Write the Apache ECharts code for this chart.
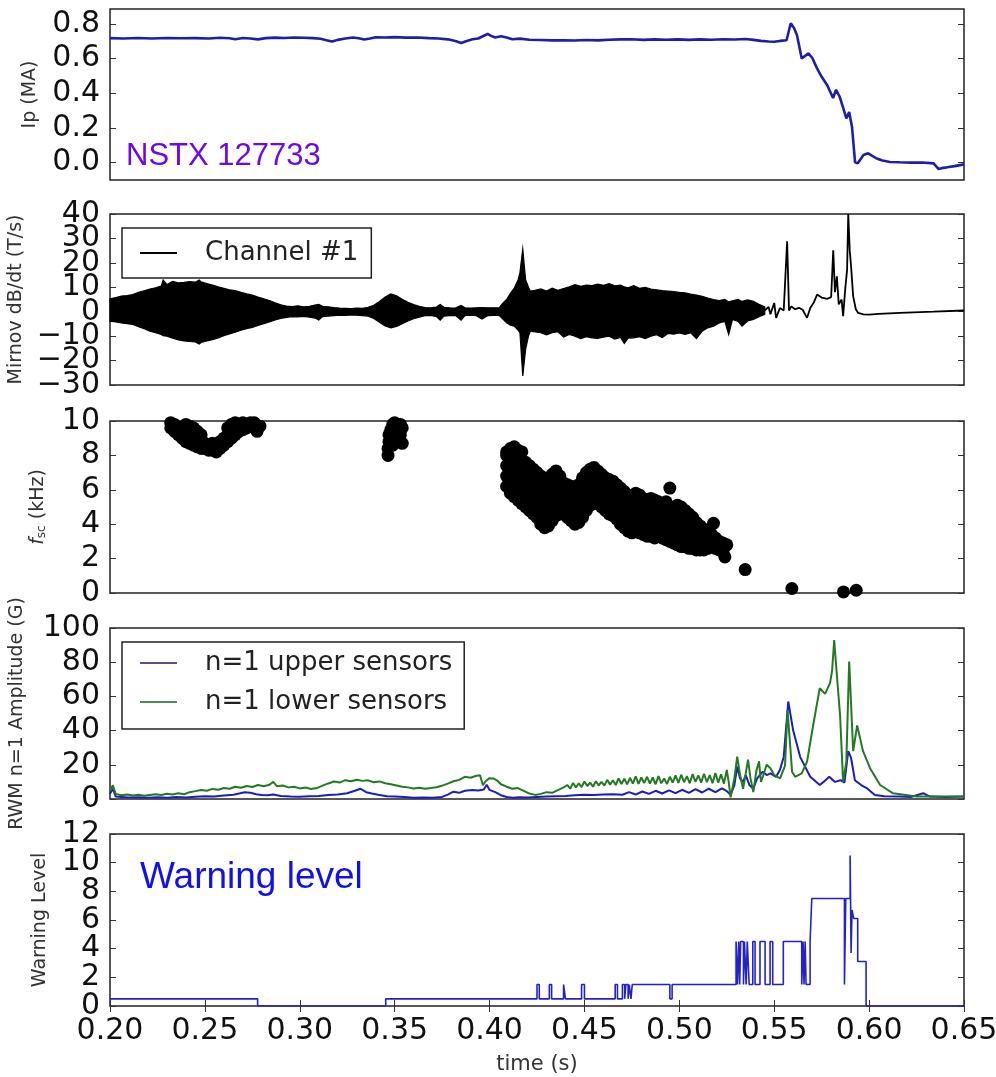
<!DOCTYPE html>
<html>
<head>
<meta charset="utf-8">
<script src="https://cdn.jsdelivr.net/npm/echarts@6/dist/echarts.min.js"></script>
<style>
  html, body { margin: 0; padding: 0; background: #fff; }
  #chart { width: 996px; height: 1077px; }
</style>
</head>
<body>
<div id="chart"></div>
<script>
// ---------- shared time axis ----------
const timeTicks = [0.20, 0.25, 0.30, 0.35, 0.40, 0.45, 0.50, 0.55, 0.60, 0.65];

// ---------- panel 1: plasma current (MA) ----------
const ipData = [
  [0.200,0.718],[0.207,0.716],[0.215,0.719],[0.222,0.716],[0.230,0.719],[0.237,0.717],[0.245,0.718],[0.252,0.716],
  [0.258,0.720],[0.263,0.717],[0.266,0.712],[0.270,0.719],[0.274,0.716],[0.278,0.711],[0.282,0.718],[0.287,0.721],
  [0.292,0.719],[0.297,0.722],[0.302,0.720],[0.307,0.718],[0.311,0.714],[0.314,0.706],[0.317,0.698],[0.320,0.708],
  [0.324,0.716],[0.328,0.722],[0.331,0.717],[0.334,0.710],[0.337,0.716],[0.340,0.723],[0.345,0.722],[0.350,0.724],
  [0.356,0.721],[0.362,0.722],[0.368,0.718],[0.373,0.716],[0.378,0.711],[0.382,0.702],[0.385,0.690],[0.388,0.702],
  [0.391,0.712],[0.394,0.716],[0.397,0.732],[0.399,0.742],[0.401,0.730],[0.403,0.722],[0.406,0.729],[0.409,0.722],
  [0.412,0.712],[0.416,0.715],[0.421,0.709],[0.427,0.707],[0.433,0.705],[0.439,0.706],[0.445,0.704],[0.451,0.707],
  [0.457,0.705],[0.463,0.709],[0.469,0.711],[0.475,0.712],[0.481,0.708],[0.487,0.711],[0.493,0.709],[0.499,0.711],
  [0.505,0.708],[0.511,0.711],[0.517,0.709],[0.523,0.712],[0.529,0.710],[0.535,0.713],[0.539,0.708],[0.543,0.702],
  [0.547,0.699],[0.550,0.697],[0.553,0.702],[0.5565,0.706],[0.5575,0.709],[0.5587,0.804],[0.5605,0.775],[0.562,0.735],
  [0.5645,0.600],[0.5655,0.598],[0.568,0.630],[0.570,0.605],[0.5725,0.545],[0.575,0.495],[0.578,0.445],[0.581,0.373],
  [0.5826,0.420],[0.5845,0.380],[0.5865,0.310],[0.588,0.255],[0.5895,0.292],[0.591,0.205],[0.5926,0.002],[0.594,-0.004],
  [0.5955,0.020],[0.597,0.044],[0.5995,0.054],[0.601,0.044],[0.604,0.024],[0.607,0.012],[0.611,0.004],[0.616,0.002],
  [0.622,0.000],[0.628,0.001],[0.634,-0.004],[0.6365,-0.036],[0.639,-0.030],[0.641,-0.027],[0.645,-0.020],[0.650,-0.010]
];
const ipTicks = [0.0, 0.2, 0.4, 0.6, 0.8];

// ---------- panel 2: Mirnov dB/dt (T/s) ----------
const mirnovTicks = [-30, -20, -10, 0, 10, 20, 30, 40];
// oscillating part as an upper / lower envelope
const mirnovEnvT = [
  0.200,0.203,0.206,0.209,0.212,0.215,0.218,0.221,0.224,0.227,0.228,0.230,0.233,0.236,0.239,0.242,0.245,0.247,0.248,0.251,
  0.254,0.257,0.260,0.263,0.266,0.269,0.272,0.275,0.278,0.281,0.284,0.287,0.290,0.293,0.296,0.299,0.302,0.305,0.308,0.310,
  0.312,0.315,0.318,0.321,0.324,0.327,0.330,0.333,0.336,0.339,0.342,0.345,0.348,0.351,0.354,0.357,0.360,0.363,0.366,0.369,
  0.372,0.374,0.376,0.379,0.382,0.385,0.387,0.390,0.393,0.396,0.399,0.402,0.405,0.407,0.409,0.411,0.413,0.415,0.416,0.4175,
  0.419,0.4205,0.4215,0.424,0.427,0.430,0.433,0.436,0.439,0.442,0.445,0.448,0.451,0.454,0.457,0.460,0.463,0.466,0.469,0.471,
  0.473,0.476,0.479,0.482,0.485,0.488,0.491,0.494,0.497,0.500,0.503,0.506,0.509,0.512,0.515,0.518,0.521,0.524,0.526,0.528,
  0.531,0.533,0.536,0.539,0.542,0.545
];
const mirnovEnvHi = [
  5.3,5.8,6.4,6.6,7.0,7.9,8.6,9.3,9.8,10.5,13.0,11.1,12.4,11.8,12.0,12.3,12.1,13.0,12.2,11.5,
  10.9,10.2,9.6,9.0,8.6,7.9,7.3,6.8,6.0,5.3,4.6,3.6,2.8,2.3,2.1,2.4,2.0,2.2,2.7,3.0,
  2.2,2.0,1.7,1.5,1.4,1.3,1.5,1.4,1.8,2.6,4.2,6.0,7.3,6.5,5.1,3.9,2.9,2.2,1.7,1.6,
  1.9,3.0,1.8,1.6,1.5,2.6,1.6,1.5,1.6,1.7,1.6,1.6,1.6,3.5,5.0,7.5,9.7,13.0,15.9,25.7,
  13.1,10.0,8.4,8.8,9.3,8.5,9.6,8.8,9.5,10.2,11.1,10.4,10.9,10.7,11.3,10.8,11.5,10.6,10.9,10.2,
  9.8,10.7,9.6,10.0,9.3,9.0,8.6,8.4,8.2,7.9,7.7,7.2,6.8,6.3,5.6,5.0,4.6,5.0,4.0,4.5,
  5.0,4.2,4.8,4.3,3.0,2.0
];
const mirnovEnvLo = [
  -3.9,-4.2,-4.6,-4.9,-5.2,-6.1,-7.0,-8.0,-8.6,-9.3,-9.8,-10.0,-10.8,-11.5,-12.0,-12.2,-12.4,-13.2,-12.6,-12.0,
  -11.4,-10.7,-9.8,-9.1,-8.4,-7.6,-6.9,-6.4,-5.6,-4.9,-4.2,-3.4,-2.7,-2.3,-2.0,-2.1,-1.9,-2.2,-2.6,-3.4,
  -2.0,-1.8,-1.6,-1.4,-1.5,-1.3,-1.4,-1.6,-1.8,-2.8,-4.3,-5.8,-6.6,-6.0,-4.9,-3.8,-2.9,-2.2,-1.6,-1.5,
  -2.0,-3.5,-1.8,-1.6,-1.5,-3.5,-1.6,-1.4,-1.6,-3.0,-1.6,-1.5,-1.5,-3.0,-4.5,-5.5,-5.9,-7.5,-8.6,-26.3,
  -15.4,-10.0,-8.0,-8.3,-8.6,-9.5,-8.6,-8.2,-10.4,-9.3,-10.0,-11.0,-10.2,-10.7,-10.9,-10.4,-10.0,-11.2,-10.5,-13.0,
  -10.8,-10.7,-10.2,-11.0,-10.0,-9.4,-10.6,-8.9,-9.2,-8.7,-9.3,-8.6,-11.0,-8.0,-6.6,-5.9,-4.6,-4.0,-9.3,-3.2,
  -4.0,-5.9,-3.8,-3.2,-2.0,-1.1
];
// single trace near and after the disruption
const mirnovTail = [
  [0.545,0.5],[0.547,2.0],[0.548,-1.0],[0.550,3.6],[0.551,-2.5],[0.553,1.5],[0.555,0.5],[0.556,1.0],[0.5568,28.8],
  [0.5578,0.5],[0.559,2.2],[0.561,1.0],[0.563,1.6],[0.565,0.8],[0.5673,-2.5],[0.569,1.5],[0.571,4.0],[0.5726,7.0],
  [0.575,5.8],[0.578,5.3],[0.580,6.0],[0.5811,25.1],[0.582,8.0],[0.583,14.5],[0.584,3.0],[0.5855,5.0],[0.5863,-1.8],
  [0.5875,10.0],[0.5884,17.2],[0.589,40.0],[0.5898,25.0],[0.5905,18.6],[0.5916,6.3],[0.593,1.0],[0.5942,-0.5],
  [0.597,-1.1],[0.600,-1.2],[0.605,-0.9],[0.6163,-0.5],[0.634,0.0],[0.650,0.5]
];

// ---------- panel 3: mode frequency f_sc (kHz) ----------
const fscTicks = [0, 2, 4, 6, 8, 10];
// each entry: time, frequencies detected at that time
const fscCols = [
  [0.232,[9.9,9.6]],[0.234,[9.8,9.4]],[0.236,[9.2,9.6]],[0.238,[9.0,9.5]],[0.240,[8.8,9.3,9.8]],[0.242,[8.7,9.1,9.7]],
  [0.244,[8.6,9.0,9.6]],[0.246,[8.5,8.9,9.4]],[0.248,[8.4,8.8,9.2]],[0.250,[8.4,8.7]],[0.252,[8.3,8.6]],[0.254,[8.3,8.7]],
  [0.256,[8.2,8.5]],[0.258,[8.4,8.8]],[0.260,[8.6,9.0]],[0.262,[8.8,9.2,9.6]],[0.264,[9.0,9.4,9.8]],[0.266,[9.2,9.6,9.9]],
  [0.268,[9.4,9.8]],[0.270,[9.5,9.9]],[0.272,[9.6,9.8]],[0.274,[9.7,9.9]],[0.276,[9.8,9.9]],[0.2775,[9.4]],[0.279,[9.7]],
  [0.3465,[8.0,8.4]],[0.347,[8.8,9.2]],[0.348,[9.0,9.5]],[0.349,[8.6,9.8]],[0.350,[9.3,9.9]],[0.351,[9.0,9.6]],
  [0.352,[8.8,9.4]],[0.353,[9.2,9.8]],[0.354,[8.7,9.6]],
  [0.409,[6.2,6.8,7.4,8.0,8.2]],[0.411,[5.8,6.4,7.0,7.6,8.4]],[0.413,[5.6,6.2,6.8,7.4,8.0,8.5]],
  [0.415,[5.4,6.0,6.6,7.2,7.8,8.3]],[0.417,[5.2,5.8,6.4,7.0,7.6,8.2]],[0.419,[5.0,5.6,6.2,6.8,7.6]],
  [0.421,[4.8,5.4,6.0,6.6,7.4]],[0.423,[4.6,5.2,5.8,6.4,7.2]],[0.425,[4.4,5.0,5.6,6.2,7.0]],
  [0.427,[4.0,4.6,5.2,5.8,6.4,6.8]],[0.429,[3.8,4.4,5.0,5.6,6.1,6.6]],[0.431,[3.9,4.5,5.1,5.7,6.5]],
  [0.433,[4.2,4.8,5.4,6.0,6.9]],[0.435,[4.5,5.1,5.7,6.3,7.1]],[0.437,[4.6,5.2,5.8,6.4,6.8]],
  [0.439,[4.6,5.2,5.8,6.4]],[0.441,[4.4,5.0,5.6,6.3]],[0.443,[4.2,4.8,5.4,6.2]],[0.445,[4.0,4.6,5.2,5.8,6.1]],
  [0.447,[4.1,4.7,5.3,5.9,6.3]],[0.449,[4.4,5.0,5.6,6.2,6.7]],[0.451,[4.8,5.4,6.0,6.6,7.0]],
  [0.453,[5.1,5.7,6.3,6.8,7.2]],[0.455,[5.2,5.8,6.4,7.0,7.3]],[0.457,[5.3,5.9,6.5,7.1]],
  [0.459,[5.0,5.6,6.2,6.9]],[0.461,[4.8,5.4,6.0,6.7]],[0.463,[4.6,5.2,5.8,6.6]],[0.465,[4.5,5.1,5.7,6.5]],
  [0.467,[4.3,4.9,5.5,6.3]],[0.469,[4.0,4.6,5.2,5.7,6.1]],[0.471,[3.8,4.4,5.0,5.5,5.9]],
  [0.473,[3.6,4.2,4.8,5.3,5.7]],[0.475,[3.5,4.1,4.7,5.2,5.6]],[0.477,[3.6,4.2,4.8,5.3,5.8]],
  [0.479,[3.5,4.1,4.7,5.2,5.7]],[0.481,[3.4,4.0,4.6,5.1,5.5]],[0.483,[3.3,3.9,4.5,5.0,5.4]],
  [0.485,[3.3,3.9,4.5,5.0,5.5]],[0.487,[3.2,3.8,4.4,4.9,5.4]],[0.489,[3.3,3.9,4.5,5.3]],
  [0.491,[3.2,3.8,4.4,5.2]],[0.493,[3.1,3.7,4.3,4.8,5.3]],[0.495,[3.0,3.6,4.2,4.7,6.1]],
  [0.497,[2.9,3.5,4.1,4.6,5.0]],[0.499,[2.8,3.4,4.0,4.6,5.1]],[0.501,[2.7,3.3,3.9,4.5,5.0]],
  [0.503,[2.7,3.3,3.9,4.4,4.8]],[0.505,[2.6,3.2,3.8,4.2,4.6]],[0.507,[2.6,3.2,3.7,4.1,4.4]],
  [0.509,[2.5,3.0,3.6,4.1]],[0.511,[2.5,3.0,3.5,3.9]],[0.513,[2.5,3.0,3.4,3.7]],[0.515,[2.6,3.0,3.5]],
  [0.517,[2.7,3.0,3.4]],[0.518,[4.05]],[0.519,[2.6,2.9,3.2]],[0.521,[2.5,2.8,3.0]],[0.523,[2.4,2.7,2.9]],
  [0.524,[2.1]],[0.525,[2.8]],[0.5347,[1.36]],[0.5593,[0.26]],[0.5865,[0.06]],[0.5932,[0.16]]
];

// ---------- panel 4: RWM n=1 amplitude (G) ----------
const rwmTicks = [0, 20, 40, 60, 80, 100];
const rwmUpper = [
  [0.200,3.0],[0.2015,6.0],[0.203,1.4],[0.206,1.2],[0.210,0.9],[0.215,1.0],[0.220,0.7],[0.225,1.0],[0.230,0.8],
  [0.235,1.1],[0.240,0.9],[0.245,1.3],[0.250,1.6],[0.255,1.4],[0.260,2.0],[0.265,2.5],[0.268,3.2],[0.271,4.0],
  [0.274,3.6],[0.277,2.8],[0.280,2.4],[0.283,2.2],[0.286,2.6],[0.290,1.8],[0.295,1.4],[0.300,1.3],[0.305,1.6],
  [0.310,1.8],[0.315,2.3],[0.320,2.6],[0.325,3.4],[0.329,4.8],[0.332,6.0],[0.335,4.0],[0.338,3.2],[0.342,2.4],
  [0.346,1.6],[0.350,1.4],[0.355,1.1],[0.360,0.8],[0.365,0.9],[0.370,0.8],[0.375,1.2],[0.378,2.6],[0.381,4.3],
  [0.384,3.6],[0.387,4.8],[0.391,5.3],[0.394,5.0],[0.397,5.6],[0.3985,8.3],[0.400,5.3],[0.403,4.0],[0.406,2.2],
  [0.409,1.2],[0.412,0.8],[0.416,1.0],[0.420,0.9],[0.425,1.2],[0.430,1.4],[0.435,1.6],[0.440,1.8],[0.445,2.2],
  [0.450,2.5],[0.455,2.3],[0.460,2.6],[0.465,2.8],[0.470,2.5],[0.4735,4.0],[0.477,2.6],[0.4805,4.4],[0.484,3.0],
  [0.4875,4.8],[0.491,3.2],[0.4945,5.0],[0.498,3.4],[0.5015,5.4],[0.505,3.6],[0.5085,5.8],[0.512,3.8],[0.5155,6.0],
  [0.519,4.0],[0.5225,6.2],[0.525,4.6],[0.527,2.5],[0.529,8.0],
  [0.5305,19.0],[0.532,12.0],[0.5336,10.0],[0.535,14.0],[0.537,8.0],[0.539,6.0],[0.541,12.0],[0.544,16.0],
  [0.546,14.0],[0.548,15.0],[0.551,13.0],[0.553,17.0],[0.555,24.6],[0.5574,57.0],[0.560,40.0],[0.5637,24.5],
  [0.569,13.0],[0.574,8.2],[0.576,10.0],[0.579,13.0],[0.582,10.0],[0.585,11.0],[0.587,9.6],[0.589,28.0],
  [0.5905,24.0],[0.5925,11.0],[0.596,8.0],[0.599,6.2],[0.603,2.4],[0.608,1.6],[0.616,1.4],[0.622,1.2],
  [0.6285,3.4],[0.632,1.4],[0.640,1.2],[0.650,1.4]
];
const rwmLower = [
  [0.200,5.0],[0.2015,8.0],[0.203,3.0],[0.206,2.2],[0.209,2.6],[0.212,2.0],[0.215,2.5],[0.218,1.9],[0.221,2.4],
  [0.224,2.8],[0.227,2.3],[0.230,3.1],[0.233,2.6],[0.236,3.4],[0.239,2.8],[0.242,4.0],[0.245,4.6],[0.248,5.3],
  [0.251,4.8],[0.254,5.9],[0.257,5.4],[0.260,6.4],[0.263,6.0],[0.266,7.2],[0.269,6.6],[0.272,7.6],[0.275,7.0],
  [0.278,8.2],[0.281,7.5],[0.284,8.3],[0.286,10.0],[0.288,7.4],[0.291,7.9],[0.294,6.8],[0.297,7.2],[0.300,6.2],
  [0.303,6.7],[0.306,5.9],[0.309,6.4],[0.312,7.8],[0.315,9.1],[0.318,10.2],[0.321,9.6],[0.324,11.0],[0.327,10.4],
  [0.330,11.3],[0.333,10.6],[0.336,10.9],[0.339,9.8],[0.342,10.3],[0.345,9.2],[0.348,8.6],[0.351,7.9],[0.354,7.2],
  [0.357,6.8],[0.360,6.2],[0.363,6.6],[0.366,6.0],[0.369,6.4],[0.372,6.9],[0.375,7.8],[0.378,9.0],[0.381,10.4],
  [0.384,11.2],[0.387,13.0],[0.390,12.4],[0.393,13.6],[0.395,13.9],[0.3965,8.0],[0.398,10.5],[0.400,12.2],
  [0.402,12.0],[0.404,10.8],[0.406,8.6],[0.409,7.2],[0.412,6.0],[0.415,6.4],[0.418,4.8],[0.421,3.2],[0.424,2.4],
  [0.427,3.0],[0.430,4.0],[0.433,3.6],[0.436,5.2],[0.439,6.8],
  [0.441,8.2],[0.4425,6.0],[0.444,9.4],[0.4455,6.8],[0.447,9.2],[0.4485,7.0],[0.450,10.2],[0.4515,7.6],[0.453,9.6],
  [0.4545,7.2],[0.456,10.4],[0.4575,8.0],[0.459,10.0],[0.4605,7.8],[0.462,11.2],[0.4635,8.4],[0.465,11.0],[0.4665,8.2],
  [0.468,12.0],[0.4695,8.8],[0.471,11.8],[0.4725,8.6],[0.474,12.4],[0.4755,9.0],[0.477,13.2],[0.4785,8.8],[0.480,12.6],
  [0.4815,9.4],[0.483,13.0],[0.4845,9.0],[0.486,12.6],[0.4875,8.6],[0.489,13.4],[0.4905,9.2],[0.492,12.0],[0.4935,8.8],
  [0.495,13.0],[0.4965,9.6],[0.498,13.8],[0.4995,9.4],[0.501,14.2],[0.5025,9.8],[0.504,13.4],[0.5055,9.2],[0.507,14.6],
  [0.5085,10.0],[0.510,13.8],[0.5115,9.6],[0.513,14.8],[0.5145,9.8],[0.516,14.0],[0.5175,9.2],[0.519,15.2],[0.5205,9.6],
  [0.522,14.4],[0.5235,9.0],[0.525,17.0],[0.526,10.0],[0.527,1.0],[0.529,12.0],[0.5305,24.8],[0.532,14.0],[0.5336,6.0],
  [0.535,15.0],[0.5362,23.0],[0.5375,12.0],[0.539,4.0],[0.5405,16.0],[0.542,22.0],[0.543,10.0],[0.544,13.0],
  [0.546,20.0],[0.548,18.0],[0.550,14.0],[0.5531,12.0],[0.5557,19.5],[0.557,52.0],[0.5585,30.0],[0.5594,16.0],
  [0.561,13.0],[0.562,12.0],[0.5645,15.0],[0.5673,21.9],[0.5705,43.0],[0.574,64.8],[0.5768,61.5],[0.5794,67.8],
  [0.5805,75.0],[0.5816,93.0],[0.583,72.6],[0.5847,49.0],[0.5863,10.0],[0.588,22.0],[0.5895,80.4],[0.591,43.0],
  [0.5916,28.0],[0.5937,43.0],[0.5968,28.0],[0.6005,18.0],[0.6058,8.2],[0.6126,3.3],[0.625,1.4],[0.650,1.4]
];

// ---------- panel 5: warning level (value holds from each time onward) ----------
const warnTicks = [0, 2, 4, 6, 8, 10, 12];
const warnT = [
  0.200,0.2778,0.3453,0.4250,0.4262,0.4315,0.4327,0.4390,0.4400,0.4485,0.4500,0.4662,0.4674,0.4700,0.4712,0.4718,
  0.4730,0.4736,0.4745,0.4752,0.4950,0.4962,0.5299,0.5306,0.5313,0.5318,0.5323,0.5338,0.5343,0.5352,0.5358,0.5368,
  0.5387,0.5399,0.5425,0.5452,0.5478,0.5492,0.5548,0.5645,0.5652,0.5657,0.5663,0.5668,0.5689,0.5698,0.5870,0.5877,
  0.5900,0.5905,0.5910,0.5919,0.5940,0.5984,0.650
];
const warnLevel = [
  0.5,0,0.5,1.5,0.5,1.5,0.5,1.5,0.5,1.5,0.5,1.5,0.5,1.5,0.5,1.5,
  0.5,1.5,0.5,1.5,0.5,1.5,4.5,1.5,4.5,1.5,4.5,1.5,4.5,1.5,4.5,1.5,
  4.5,1.5,4.5,1.5,4.5,1.5,4.5,1.5,4.5,1.5,4.5,1.5,4.5,7.5,1.5,7.5,
  10.5,3.7,6.7,6.1,3.1,0,0
];

// ---------- layout ----------
const FONT = 'DejaVu Sans';
const PLOT_LEFT = 110, PLOT_RIGHT = 32;
const panels = [
  { top: 9,   height: 171, min: -0.1, max: 0.886, ticks: ipTicks, name: 'Ip (MA)', gap: 70,
    fmt: v => v.toFixed(1) },
  { top: 214, height: 171, min: -30, max: 40, ticks: mirnovTicks, name: 'Mirnov dB/dt (T/s)', gap: 84,
    fmt: v => String(v).replace('-', '\u2212') },
  { top: 421, height: 172, min: 0, max: 10, ticks: fscTicks, name: '{i|f}{s|sc} (kHz)', gap: 62,
    fmt: v => String(v) },
  { top: 628, height: 171, min: 0, max: 100, ticks: rwmTicks, name: 'RWM n=1 Amplitude (G)', gap: 83,
    fmt: v => String(v) },
  { top: 834, height: 172, min: 0, max: 12, ticks: warnTicks, name: 'Warning Level', gap: 60,
    fmt: v => String(v) }
];

const grid = panels.map(p => ({
  left: PLOT_LEFT, right: PLOT_RIGHT, top: p.top, height: p.height,
  outerBoundsMode: 'none', containLabel: false,
  show: true, borderColor: '#222', borderWidth: 1.5, backgroundColor: '#fff'
}));

const xAxis = panels.map((p, i) => ({
  type: 'value', gridIndex: i, min: 0.2, max: 0.65,
  axisLine: { show: false }, splitLine: { show: false },
  axisTick: { show: i === 4, inside: true, length: 6, customValues: timeTicks,
              lineStyle: { color: '#333', width: 1 } },
  axisLabel: {
    show: i === 4, margin: 10, fontFamily: FONT, fontSize: 30, color: '#111', hideOverlap: false,
    showMinLabel: true, showMaxLabel: true,
    customValues: timeTicks, formatter: v => v.toFixed(2)
  },
  name: i === 4 ? 'time (s)' : '', nameLocation: 'middle', nameGap: 48,
  nameTextStyle: { fontFamily: FONT, fontSize: 21, color: '#333' }
}));
// top tick marks of the bottom panel
xAxis.push({
  type: 'value', gridIndex: 4, position: 'top', min: 0.2, max: 0.65,
  axisLine: { show: false }, splitLine: { show: false }, axisLabel: { show: false },
  axisTick: { show: true, inside: true, length: 6, customValues: timeTicks,
              lineStyle: { color: '#333', width: 1 } }
});

// Tick labels are shared between two stacked left axes (alternate values),
// so that the large, tightly packed labels are all kept.
const evenOf = a => a.filter((_, k) => k % 2 === 0);
const oddOf = a => a.filter((_, k) => k % 2 === 1);

function yTickCfg(p) {
  return { show: true, inside: true, length: 6, customValues: p.ticks, lineStyle: { color: '#333', width: 1 } };
}
function yLabelCfg(p, values) {
  return {
    margin: 10, fontFamily: FONT, fontSize: 30, color: '#111', formatter: p.fmt,
    customValues: values, hideOverlap: false, showMinLabel: true, showMaxLabel: true
  };
}
const yAxis = [];
panels.forEach((p, i) => {
  yAxis.push({
    type: 'value', gridIndex: i, position: 'left', offset: 0, min: p.min, max: p.max,
    axisLine: { show: false }, splitLine: { show: false },
    axisTick: yTickCfg(p),
    axisLabel: yLabelCfg(p, evenOf(p.ticks)),
    name: p.name, nameLocation: 'middle', nameRotate: 90, nameGap: p.gap,
    nameTextStyle: {
      fontFamily: FONT, fontSize: 19, color: '#333',
      rich: {
        i: { fontFamily: FONT, fontSize: 19, fontStyle: 'italic', color: '#333' },
        s: { fontFamily: FONT, fontSize: 12, color: '#333', verticalAlign: 'bottom', padding: [8, 0, 0, 0] }
      }
    }
  });
});
panels.forEach((p, i) => {
  yAxis.push({
    type: 'value', gridIndex: i, position: 'right', min: p.min, max: p.max,
    axisLine: { show: false }, splitLine: { show: false },
    axisTick: yTickCfg(p), axisLabel: { show: false }
  });
});
panels.forEach((p, i) => {
  yAxis.push({
    type: 'value', gridIndex: i, position: 'left', offset: 0, min: p.min, max: p.max,
    axisLine: { show: false }, splitLine: { show: false }, axisTick: { show: false },
    axisLabel: yLabelCfg(p, oddOf(p.ticks))
  });
});

const fscPoints = [];
fscCols.forEach(([t, fs]) => fs.forEach(f => fscPoints.push([t, f])));

const warnData = warnT.map((t, i) => [t, warnLevel[i]]);

const series = [
  {
    name: 'Ip', type: 'line', xAxisIndex: 0, yAxisIndex: 0, data: ipData,
    showSymbol: false, symbol: 'none', lineStyle: { color: '#1e1eaa', width: 2.6 }, z: 3
  },
  {
    name: 'Channel #1', type: 'custom', xAxisIndex: 1, yAxisIndex: 1,
    data: [[mirnovEnvT[0], mirnovEnvHi[0]]], silent: true, z: 3,
    itemStyle: { color: '#000' },
    renderItem: function (params, api) {
      const pts = [];
      for (let k = 0; k < mirnovEnvT.length; k++) pts.push(api.coord([mirnovEnvT[k], mirnovEnvHi[k]]));
      for (let k = mirnovEnvT.length - 1; k >= 0; k--) pts.push(api.coord([mirnovEnvT[k], mirnovEnvLo[k]]));
      return {
        type: 'polygon', shape: { points: pts },
        style: { fill: '#000', stroke: '#000', lineWidth: 1.2, lineJoin: 'miter' }
      };
    }
  },
  {
    name: 'Channel #1', type: 'line', xAxisIndex: 1, yAxisIndex: 1, data: mirnovTail,
    showSymbol: false, symbol: 'none', lineStyle: { color: '#000', width: 1.8 }, z: 3
  },
  {
    name: 'fsc', type: 'scatter', xAxisIndex: 2, yAxisIndex: 2, data: fscPoints,
    symbol: 'circle', symbolSize: 13, itemStyle: { color: '#000', opacity: 1 }, z: 3
  },
  {
    name: 'n=1 upper sensors', type: 'line', xAxisIndex: 3, yAxisIndex: 3, data: rwmUpper,
    showSymbol: false, symbol: 'none', lineStyle: { color: '#1c1cc4', width: 2 }, z: 3
  },
  {
    name: 'n=1 lower sensors', type: 'line', xAxisIndex: 3, yAxisIndex: 3, data: rwmLower,
    showSymbol: false, symbol: 'none', lineStyle: { color: '#237a23', width: 2 }, z: 4
  },
  {
    name: 'Warning', type: 'line', xAxisIndex: 4, yAxisIndex: 4, data: warnData, step: 'end',
    showSymbol: false, symbol: 'none', lineStyle: { color: '#2222cc', width: 1.6 }, z: 3
  }
];

const legendCommon = {
  orient: 'vertical', selectedMode: false, icon: 'rect', itemWidth: 37, itemHeight: 2,
  backgroundColor: '#fff', borderColor: '#222', borderWidth: 1.5, borderRadius: 0,
  textStyle: { fontFamily: FONT, fontSize: 26, color: '#222', lineHeight: 30, padding: [0, 0, 0, 23] },
  z: 10
};
const legend = [
  Object.assign({}, legendCommon, {
    left: 122, top: 228, padding: [10, 13, 10, 18], itemGap: 9,
    data: [{ name: 'Channel #1', itemStyle: { color: '#000' } }]
  }),
  Object.assign({}, legendCommon, {
    left: 122, top: 642, padding: [6, 12, 12, 18], itemGap: 9,
    data: [
      { name: 'n=1 upper sensors', itemStyle: { color: '#6a4a82' } },
      { name: 'n=1 lower sensors', itemStyle: { color: '#4e8c5c' } }
    ]
  })
];

const graphic = [
  {
    type: 'text', left: 126, top: 141, z: 20,
    style: { text: 'NSTX 127733', font: '31px "Liberation Sans", Arial, sans-serif', fill: '#6a08f5' }
  },
  {
    type: 'text', left: 140, top: 859, z: 20,
    style: { text: 'Warning level', font: '37px "Liberation Sans", Arial, sans-serif', fill: '#1010ee' }
  }
];

const chart = echarts.init(document.getElementById('chart'), null, { renderer: 'canvas' });
chart.setOption({
  animation: false,
  backgroundColor: '#fff',
  textStyle: { fontFamily: FONT },
  grid, xAxis, yAxis, series, legend, graphic
});
</script>
</body>
</html>
